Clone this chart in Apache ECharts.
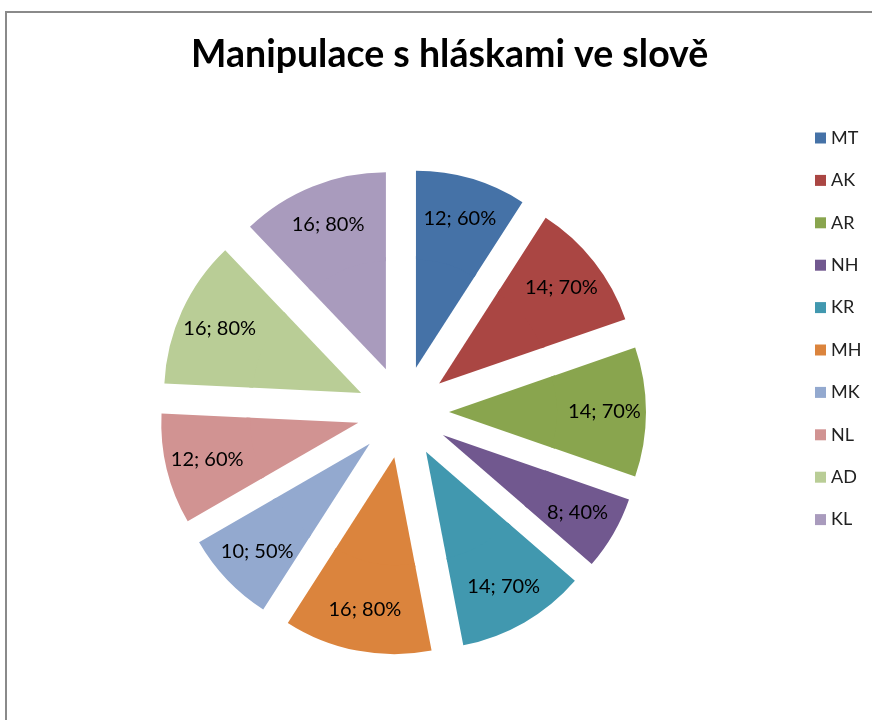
<!DOCTYPE html>
<html>
<head>
<meta charset="utf-8">
<script src="https://cdn.jsdelivr.net/npm/echarts@6/dist/echarts.min.js"></script>
<style>
html,body{margin:0;padding:0;background:#fff;}
#chart{width:872px;height:720px;}
</style>
</head>
<body>
<div id="chart"></div>
<script>
const titleText = 'Manipulace s hláskami ve slově';
const categories = ['MT', 'AK', 'AR', 'NH', 'KR', 'MH', 'MK', 'NL', 'AD', 'KL'];
const counts = [12, 14, 14, 8, 14, 16, 10, 12, 16, 16];
const percents = [60, 70, 70, 40, 70, 80, 50, 60, 80, 80];
const colors = ['#4572A7', '#AA4643', '#89A54E', '#71588F', '#4198AF', '#DB843D', '#93A9CF', '#D19392', '#B9CD96', '#A99BBD'];

const pieData = categories.map((c, i) => ({
  name: c,
  value: counts[i],
  pct: percents[i],
  selected: true,
  itemStyle: { color: colors[i] }
}));

const chart = echarts.init(document.getElementById('chart'));
const center = [403, 412];
const offset = 46;
chart.setOption({
  animation: false,
  title: {
    text: titleText,
    left: 191,
    top: 36,
    padding: 0,
    textStyle: { fontFamily: 'Lato', fontWeight: 'bold', fontSize: 37.5, color: '#000' }
  },
  legend: {
    orient: 'vertical',
    left: 810,
    top: 123,
    itemWidth: 11,
    itemHeight: 11,
    itemGap: 22.4,
    icon: 'rect',
    selectedMode: false,
    data: categories,
    textStyle: { fontFamily: 'Lato', fontSize: 18, color: '#222', lineHeight: 20, padding: [0, 0, 0, 0] }
  },
  graphic: [{
    type: 'rect',
    shape: { x: 6, y: 12, width: 900, height: 800 },
    style: { fill: 'none', stroke: '#8a8a8a', lineWidth: 2 },
    silent: true
  }],
  series: [
    {
      type: 'pie',
      name: 'core',
      center: center,
      radius: [0, 112],
      startAngle: 90,
      clockwise: true,
      selectedMode: 'multiple',
      selectedOffset: offset,
      silent: true,
      label: { show: false },
      labelLine: { show: false },
      emphasis: { disabled: true },
      data: pieData
    },
    {
      type: 'pie',
      name: 'outer',
      center: center,
      radius: [108, 197],
      startAngle: 90,
      clockwise: true,
      selectedMode: 'multiple',
      selectedOffset: offset,
      silent: true,
      emphasis: { disabled: true },
      label: {
        show: true,
        position: 'inside',
        fontFamily: 'Lato',
        fontSize: 20,
        color: '#000',
        formatter: p => p.value + '; ' + p.data.pct + '%'
      },
      labelLine: { show: false },
      data: pieData
    }
  ]
});
</script>
</body>
</html>
